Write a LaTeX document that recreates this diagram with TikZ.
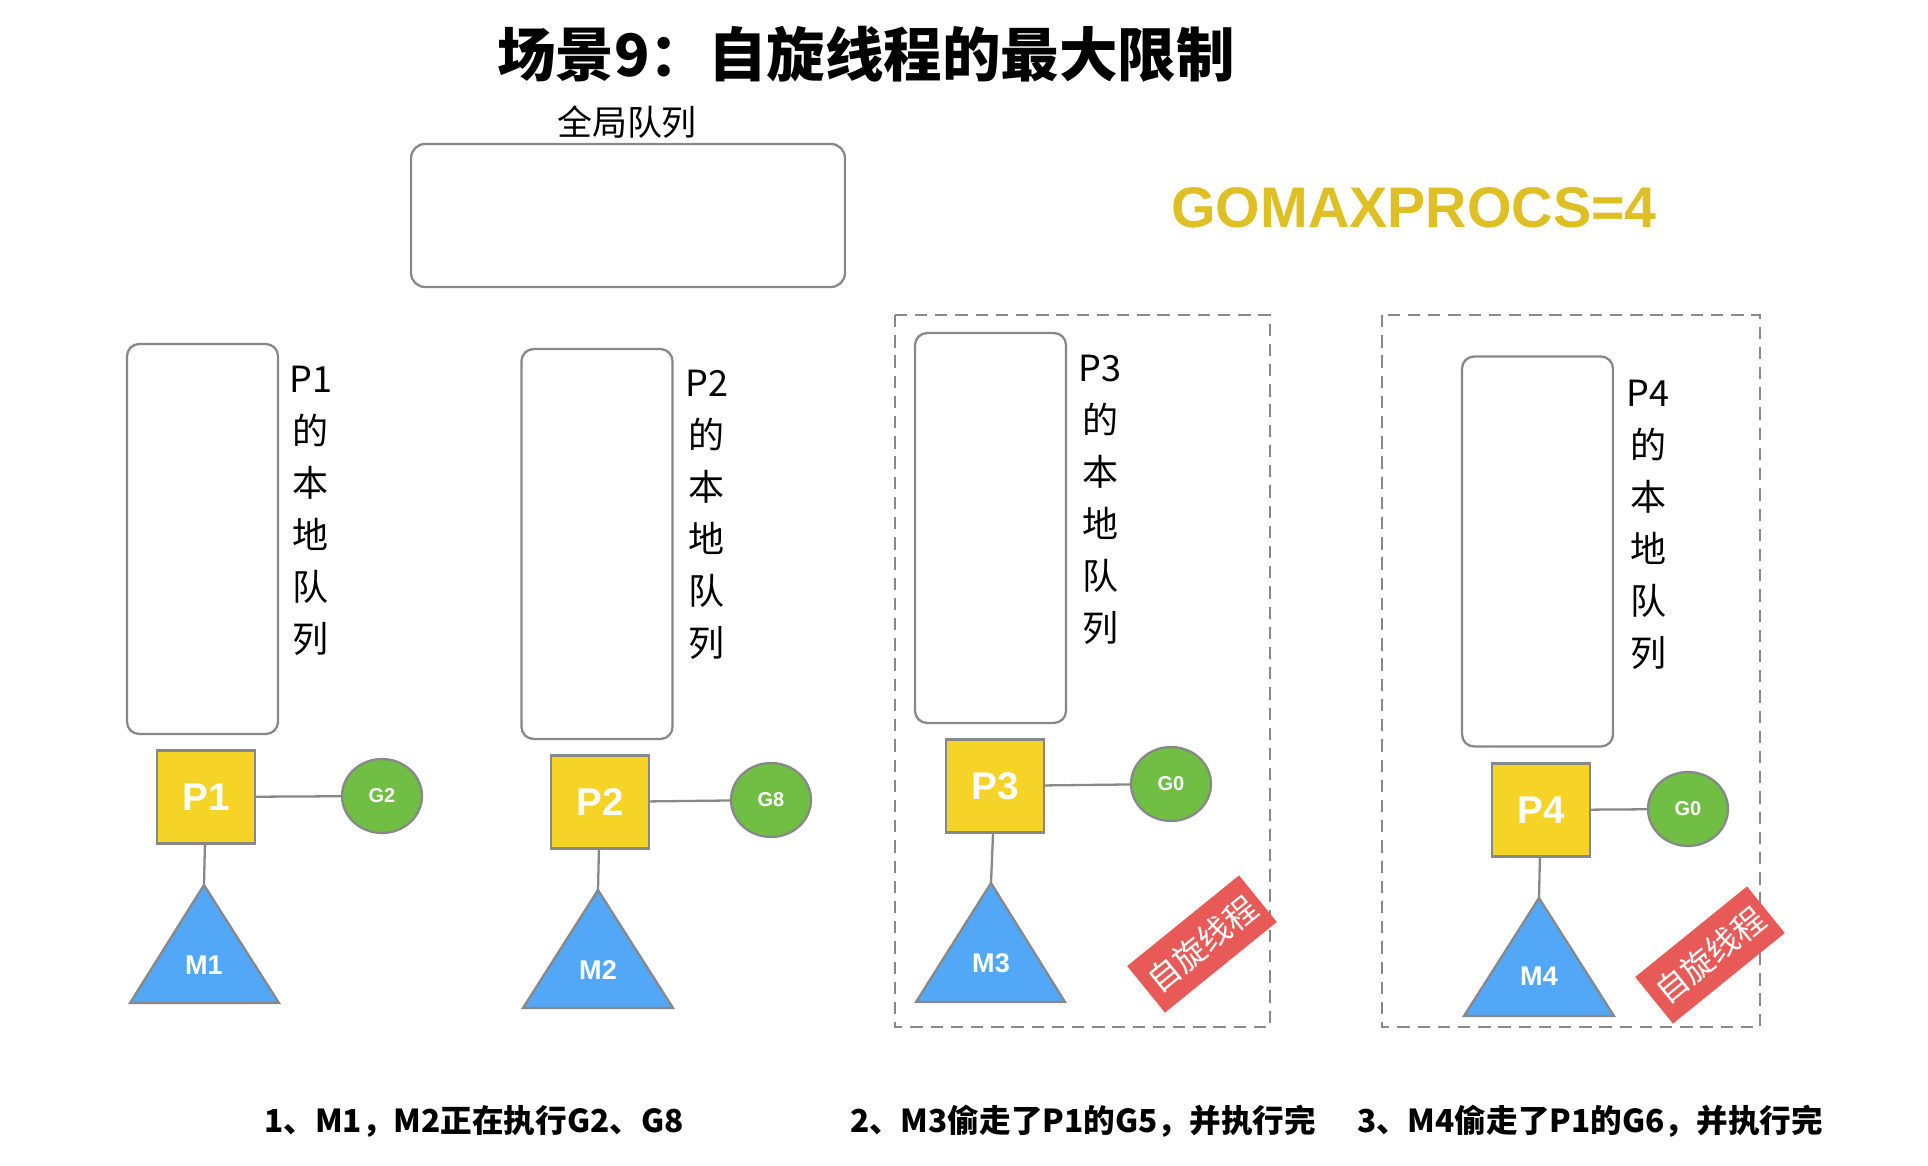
\documentclass[tikz,border=0pt]{standalone}
\usepackage{fontspec}
\setmainfont{Noto Sans CJK SC}
\newfontfamily\helvfont{Liberation Sans}
\usepackage{tikz}
\usetikzlibrary{shapes.geometric}
\definecolor{pyellow}{RGB}{245,211,39}
\definecolor{ggreen}{RGB}{112,190,68}
\definecolor{mblue}{RGB}{82,167,246}
\definecolor{spinred}{RGB}{232,90,87}
\definecolor{goldtext}{RGB}{222,192,36}
\definecolor{edgegray}{RGB}{136,136,136}

\begin{document}
\begin{tikzpicture}[
  x=0.02cm, y=-0.02cm,
  qbox/.style={draw=edgegray, line width=1.3pt, rounded corners=0.24cm, minimum width=3.02cm, minimum height=7.8cm},
  qlabel/.style={align=center, font=\fontsize{20.5}{29.6}\selectfont},
  pbox/.style={draw=edgegray, line width=1.3pt, fill=pyellow, minimum width=1.96cm, minimum height=1.86cm, text=white, font=\helvfont\bfseries\fontsize{22}{26}\selectfont},
  gnode/.style={ellipse, draw=edgegray, line width=1.3pt, fill=ggreen, minimum width=1.6cm, minimum height=1.48cm, inner sep=0pt, text=white, font=\helvfont\bfseries\fontsize{11.4}{13}\selectfont},
  mtri/.style={draw=edgegray, line width=1.3pt, fill=mblue},
  mtext/.style={text=white, font=\helvfont\bfseries\fontsize{15.4}{18}\selectfont},
  linkline/.style={draw=edgegray, line width=1.3pt},
  spinframe/.style={draw=edgegray, line width=1.3pt, dash pattern=on 7pt off 4.5pt},
  spinbadge/.style={fill=spinred, text=white, minimum width=2.88cm, minimum height=1.2cm, inner sep=0pt, rotate=39, font=\fontsize{18.5}{22}\selectfont},
  captext/.style={font=\bfseries\fontsize{18}{22}\selectfont}
]
\useasboundingbox (0,0) rectangle (1928,1166);

% title and global queue
\node[font=\bfseries\fontsize{33.3}{38}\selectfont] (title) at (866,54) {场景9：自旋线程的最大限制};
\node[draw=edgegray, line width=1.3pt, rounded corners=0.28cm, minimum width=8.68cm, minimum height=2.86cm] (gq) at (628,215.5) {};
\node[font=\fontsize{19.9}{24}\selectfont] (gqlabel) at (627,122) {全局队列};
\node[text=goldtext, font=\helvfont\bfseries\fontsize{32.6}{38}\selectfont] (maxprocs) at (1414,208) {GOMAXPROCS=4};

% P1
\node[qbox] (q1) at (202.5,539) {};
\node[qlabel] (l1) at (311,511) {P1\\的\\本\\地\\队\\列};
\node[pbox] (p1) at (206,797) {P1};
\node[gnode] (g2) at (382,796) {G2};
\coordinate (m1top) at (204,885);
\draw[mtri] (m1top) -- (279,1003) -- (130,1003) -- cycle;
\node[mtext] (m1) at (204,965) {M1};
\draw[linkline] (p1) -- (g2);
\draw[linkline] (p1) -- (m1top);

% P2
\node[qbox] (q2) at (597,544) {};
\node[qlabel] (l2) at (707,515) {P2\\的\\本\\地\\队\\列};
\node[pbox] (p2) at (600,802) {P2};
\node[gnode] (g8) at (771,800) {G8};
\coordinate (m2top) at (598,890);
\draw[mtri] (m2top) -- (673,1008) -- (523,1008) -- cycle;
\node[mtext] (m2) at (598,970) {M2};
\draw[linkline] (p2) -- (g8);
\draw[linkline] (p2) -- (m2top);

% P3, spinning
\draw[spinframe] (895,315) rectangle (1270,1027);
\node[qbox] (q3) at (990.5,528) {};
\node[qlabel] (l3) at (1100,500) {P3\\的\\本\\地\\队\\列};
\node[pbox] (p3) at (995,786) {P3};
\node[gnode] (g0a) at (1171,784) {G0};
\coordinate (m3top) at (991,883);
\draw[mtri] (m3top) -- (1065,1002) -- (916,1002) -- cycle;
\node[mtext] (m3) at (991,963) {M3};
\draw[linkline] (p3) -- (g0a);
\draw[linkline] (p3) -- (m3top);
\node[spinbadge] (s3) at (1202,944) {自旋线程};

% P4, spinning
\draw[spinframe] (1382,315) rectangle (1760,1027);
\node[qbox] (q4) at (1537.5,551.5) {};
\node[qlabel] (l4) at (1648,525) {P4\\的\\本\\地\\队\\列};
\node[pbox] (p4) at (1541,810) {P4};
\node[gnode] (g0b) at (1688,809) {G0};
\coordinate (m4top) at (1539,898);
\draw[mtri] (m4top) -- (1614,1016) -- (1464,1016) -- cycle;
\node[mtext] (m4) at (1539,976) {M4};
\draw[linkline] (p4) -- (g0b);
\draw[linkline] (p4) -- (m4top);
\node[spinbadge] (s4) at (1710,955) {自旋线程};

% steps
\node[captext] (c1) at (474,1121) {1、M1，M2正在执行G2、G8};
\node[captext] (c2) at (1083,1121) {2、M3偷走了P1的G5，并执行完};
\node[captext] (c3) at (1590,1121) {3、M4偷走了P1的G6，并执行完};
\end{tikzpicture}
\end{document}
